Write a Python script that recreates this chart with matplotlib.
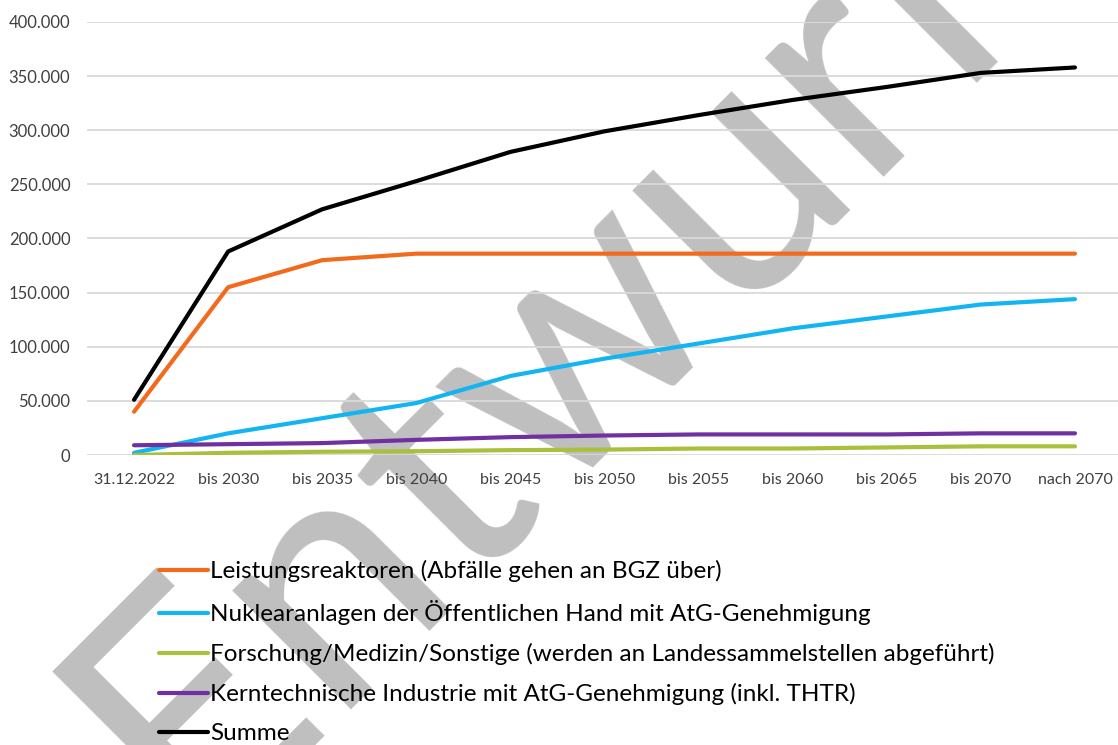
import matplotlib
matplotlib.use("Agg")
import matplotlib.pyplot as plt
from matplotlib.ticker import FuncFormatter, MultipleLocator

plt.rcParams['font.family'] = ['Lato', 'DejaVu Sans']

zeitraum = ['31.12.2022', 'bis 2030', 'bis 2035', 'bis 2040', 'bis 2045', 'bis 2050',
            'bis 2055', 'bis 2060', 'bis 2065', 'bis 2070', 'nach 2070']

leistungsreaktoren = [40000, 155000, 180000, 186000, 186000, 186000, 186000, 186000, 186000, 186000, 186000]
oeffentliche_hand = [2000, 20000, 34000, 48000, 73000, 89000, 103000, 117000, 128000, 139000, 144000]
forschung = [0, 2000, 3000, 3500, 4500, 5000, 6000, 6000, 7000, 8000, 8000]
industrie = [9000, 10000, 11000, 14000, 16500, 18000, 19000, 19000, 19000, 20000, 20000]
summe = [51000, 188000, 227000, 253000, 280000, 299000, 314000, 328000, 340000, 353000, 358000]

reihen = [
    ('Leistungsreaktoren (Abfälle gehen an BGZ über)', leistungsreaktoren, '#f26b1d'),
    ('Nuklearanlagen der Öffentlichen Hand mit AtG-Genehmigung', oeffentliche_hand, '#12b5f2'),
    ('Forschung/Medizin/Sonstige (werden an Landessammelstellen abgeführt)', forschung, '#a8c03c'),
    ('Kerntechnische Industrie mit AtG-Genehmigung (inkl. THTR)', industrie, '#7030a0'),
    ('Summe', summe, '#000000'),
]

fig = plt.figure(figsize=(11.18, 7.45), dpi=100)
ax = fig.add_axes([87 / 1118, 290 / 745, 1035 / 1118, 433 / 745])
ax.set_facecolor('none')

# Entwurf-Wasserzeichen hinter dem Diagramm, Grundlinie unter 45 Grad
fig.text(190 / 1118, 1 - 840 / 745, 'Entwurf', rotation=45, rotation_mode='anchor',
         ha='left', va='baseline', fontsize=240, color='#bfbfbf', zorder=-1)

x = list(range(len(zeitraum)))
for name, werte, farbe in reihen:
    ax.plot(x, werte, color=farbe, linewidth=3, solid_capstyle='round', label=name, zorder=3)

ax.set_xlim(-0.5, len(zeitraum) - 0.5)
ax.set_ylim(0, 400000)
ax.yaxis.set_major_locator(MultipleLocator(50000))
ax.yaxis.set_major_formatter(FuncFormatter(lambda v, p: f'{v:,.0f}'.replace(',', '.')))
ax.set_xticks(x)
ax.set_xticklabels(zeitraum)
ax.grid(axis='y', color='#d9d9d9', linewidth=1.3, zorder=1)
ax.set_axisbelow(True)
for s in ax.spines.values():
    s.set_visible(False)
ax.tick_params(length=0, labelsize=12, colors='#404040')
ax.tick_params(axis='x', labelsize=11.5, pad=13)
ax.tick_params(axis='y', pad=12)

fig.legend(loc='upper left', bbox_to_anchor=(159 / 1118, 1 - 560 / 745), frameon=False,
           fontsize=17.5, handlelength=2.0, handletextpad=0.1, labelspacing=0.74,
           borderaxespad=0, borderpad=0)

fig.savefig('out.png', dpi=100)
